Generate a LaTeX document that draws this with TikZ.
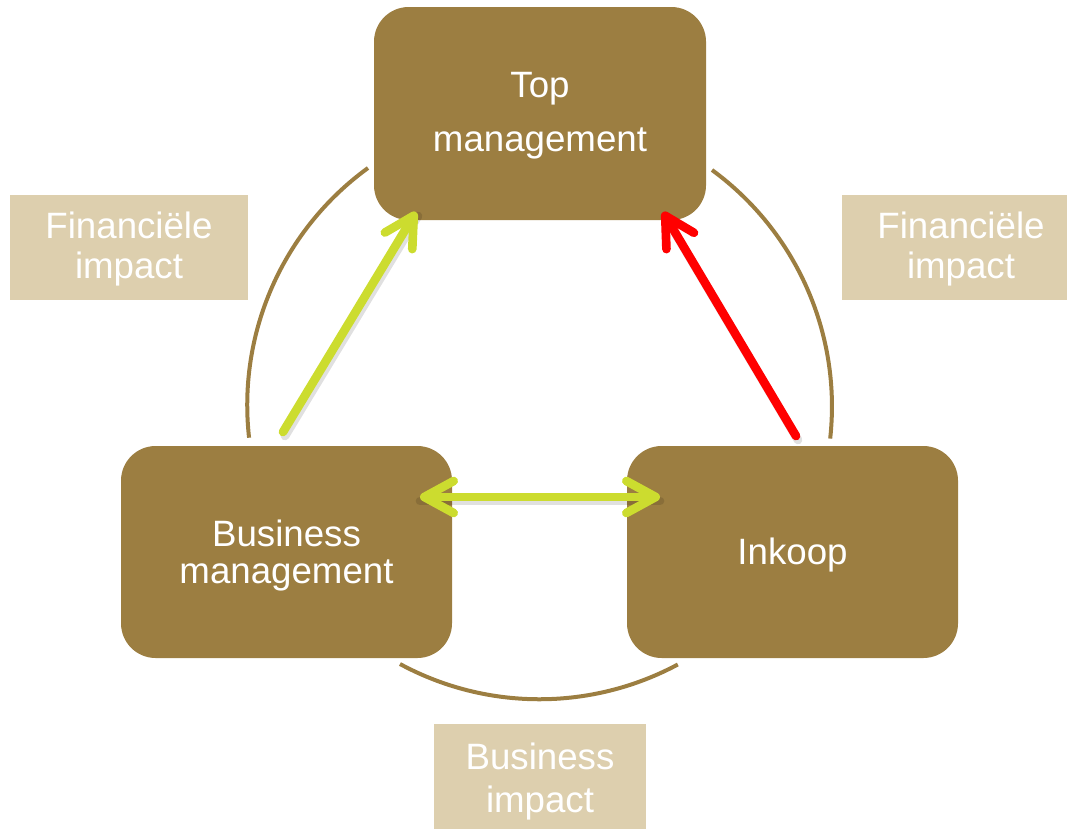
\documentclass[tikz,border=0pt]{standalone}
\usepackage{fontspec}
\setmainfont{Liberation Sans}
\usetikzlibrary{arrows.meta}
\definecolor{boxbrown}{HTML}{9C7E41}
\definecolor{labelbeige}{HTML}{DDCFAE}
\definecolor{arrowgreen}{HTML}{CCDC2F}
\definecolor{arrowred}{HTML}{FF0000}
\begin{document}
\begin{tikzpicture}[x=0.75pt,y=-0.75pt,
  mainbox/.style={fill=boxbrown, rounded corners=26pt, inner sep=0pt},
  labelbox/.style={fill=labelbeige, inner sep=0pt},
  boxtext/.style={text=white, align=center, inner sep=0pt},
  ring/.style={draw=boxbrown, line width=3pt},
  tipbarb/.tip={Straight Barb[round,length=22pt,width=24pt]},
  flow/.style={line width=6.5pt, line cap=round, -tipbarb},
  shadowline/.style={line width=6.5pt, line cap=round, draw=black, opacity=0.12},
]
\useasboundingbox (0,0) rectangle (1067,828);
\clip (0,0) rectangle (1067,828);

% ring arcs
\draw[ring] (368,168) arc[start angle=234, end angle=173.6, radius=293];
\draw[ring] (712,170) arc[start angle=-53.8, end angle=6.3, radius=293];
\draw[ring] (400,664) arc[start angle=118.4, end angle=61.8, radius=293];

% label boxes
\node[labelbox, minimum width=178.5pt, minimum height=78.75pt] (finL) at (129,247.5) {};
\node[boxtext, font=\fontsize{27.5}{29.5}\selectfont] (finLt) at (129,249) {Financiële\\impact};
\node[labelbox, minimum width=178.5pt, minimum height=78.75pt] (finR) at (961,247.5) {};
\node[boxtext, font=\fontsize{27.5}{29.5}\selectfont] (finRt) at (961,249) {Financiële\\impact};
\node[labelbox, minimum width=159pt, minimum height=81pt] (bizimp) at (540,778) {};
\node[boxtext, font=\fontsize{27.5}{32.5}\selectfont] (bizimpt) at (540,781.5) {Business\\impact};

% main boxes
\node[mainbox, minimum width=249pt, minimum height=159.75pt] (top) at (540,113.5) {};
\node[boxtext, font=\fontsize{27.5}{40.5}\selectfont] (topt) at (540,115.5) {Top\\management};
\node[mainbox, minimum width=248.25pt, minimum height=159pt] (biz) at (286.5,552) {};
\node[boxtext, font=\fontsize{27.5}{28}\selectfont] (bizt) at (286.5,555.5) {Business\\management};
\node[mainbox, minimum width=248.25pt, minimum height=159pt] (ink) at (792.5,552) {};
\node[boxtext, font=\fontsize{27.5}{28}\selectfont] (inkt) at (792.5,555) {Inkoop};

% arrow end points
\coordinate (gS) at (283,432);
\coordinate (gE) at (416,212);
\coordinate (rS) at (796,436);
\coordinate (rE) at (663,212);
\coordinate (hL) at (420,497);
\coordinate (hR) at (660,497);

% shadows
\draw[shadowline] ([shift={(2,4)}]gS) -- ([shift={(2,4)}]gE);
\draw[shadowline] ([shift={(2,4)}]rS) -- ([shift={(2,4)}]rE);
\draw[shadowline] ([shift={(0,4)}]hL) -- ([shift={(0,4)}]hR);

% arrows
\draw[flow, arrowgreen] (gS) -- (gE);
\draw[flow, arrowred] (rS) -- (rE);
\draw[flow, arrowgreen, tipbarb-tipbarb] (hL) -- (hR);
\end{tikzpicture}
\end{document}
